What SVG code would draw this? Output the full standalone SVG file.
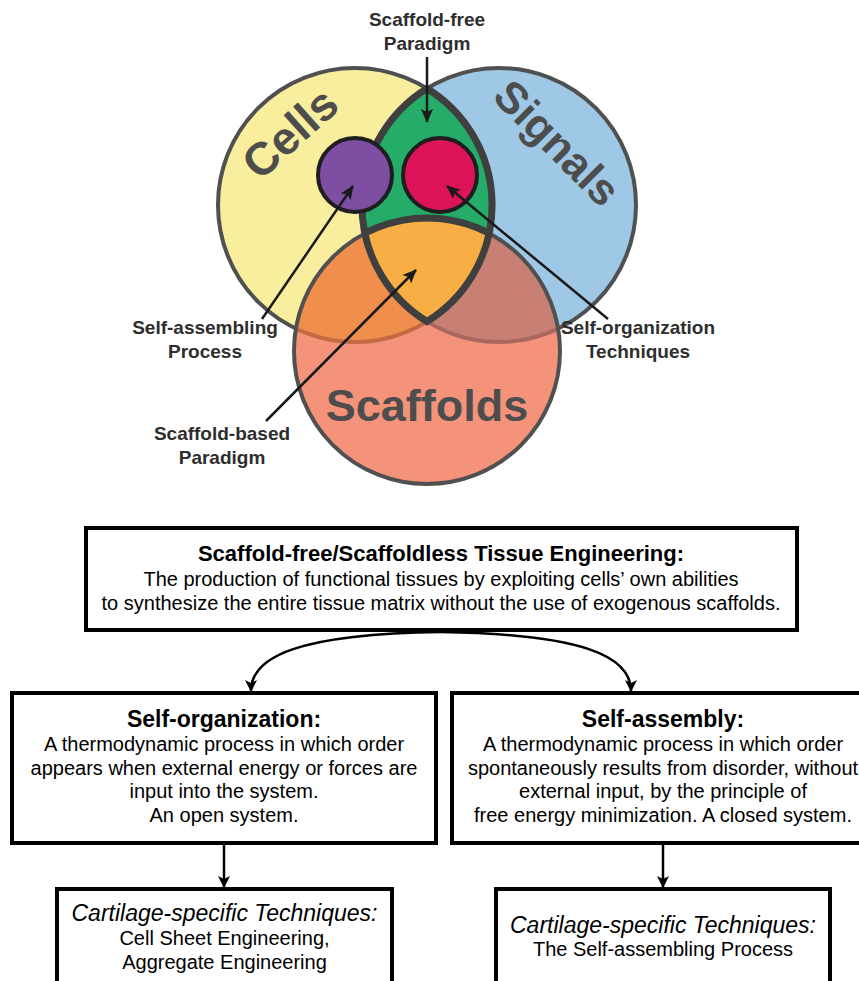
<svg xmlns="http://www.w3.org/2000/svg" width="859" height="981" viewBox="0 0 859 981">
<style>
.lbl{font-family:"Liberation Sans",Arial,sans-serif;font-weight:bold;font-size:19px;fill:#2e2e2e;text-anchor:middle}
.big{font-family:"Liberation Sans",Arial,sans-serif;font-weight:bold;fill:#4d4d4d;text-anchor:middle}
.ttl{font-family:"Liberation Sans",Arial,sans-serif;font-weight:bold;font-size:22px;fill:#000;text-anchor:middle}
.ttl2{font-family:"Liberation Sans",Arial,sans-serif;font-weight:bold;font-size:23px;fill:#000;text-anchor:middle}
.bdy{font-family:"Liberation Sans",Arial,sans-serif;font-size:20px;fill:#000;text-anchor:middle}
.ital{font-family:"Liberation Sans",Arial,sans-serif;font-style:italic;font-size:23px;fill:#000;text-anchor:middle}
.box{fill:#fff;stroke:#000;stroke-width:4}
.ptr{fill:none;stroke:#1a1a1a;stroke-width:2.5;marker-end:url(#ah)}
.flow{fill:none;stroke:#000;stroke-width:2.5;marker-end:url(#ah2)}
</style>
<defs>
<marker id="ah" markerUnits="userSpaceOnUse" markerWidth="14" markerHeight="12" viewBox="0 0 14 12" refX="13" refY="6" orient="auto">
<path d="M0,0 L14,6 L0,12 L3,6 z" fill="#1a1a1a"/>
</marker>
<marker id="ah2" markerUnits="userSpaceOnUse" markerWidth="12" markerHeight="12" viewBox="0 0 12 12" refX="11" refY="6" orient="auto">
<path d="M0,0 L12,6 L0,12 L3,6 z" fill="#000"/>
</marker>
<clipPath id="clipScaf"><circle cx="427" cy="351" r="133"/></clipPath>
<clipPath id="clipLens"><path d="M427 88.4 A137 137 0 0 1 427 321.6 A137 137 0 0 1 427 88.4 Z"/></clipPath>
</defs>

<g id="venn-cells">
<circle cx="355" cy="205" r="137" fill="#F9EE9D" stroke="#505050" stroke-width="4"/>
</g>
<g id="venn-signals">
<circle cx="499" cy="205" r="137" fill="#9EC8E5" stroke="#505050" stroke-width="4"/>
</g>
<g id="venn-scaffolds">
<circle cx="427" cy="351" r="133" fill="#F4937A"/>
<g clip-path="url(#clipScaf)">
<circle cx="355" cy="205" r="137" fill="#F08E4E" stroke="#C46A42" stroke-width="4"/>
<circle cx="499" cy="205" r="137" fill="#C98074" stroke="#A9675D" stroke-width="4"/>
</g>
<circle cx="427" cy="351" r="133" fill="none" stroke="#505050" stroke-width="4"/>
</g>
<g id="scaffold-free-region">
<path d="M427 88.4 A137 137 0 0 1 427 321.6 A137 137 0 0 1 427 88.4 Z" fill="#24AC68"/>
<g clip-path="url(#clipLens)">
<circle cx="427" cy="351" r="133" fill="#F6AE45" stroke="#3f3f3f" stroke-width="7"/>
</g>
<path d="M427 88.4 A137 137 0 0 1 427 321.6 A137 137 0 0 1 427 88.4 Z" fill="none" stroke="#3f3f3f" stroke-width="7"/>
</g>
<g id="self-assembling-circle">
<circle cx="355" cy="175" r="37" fill="#7D4EA2" stroke="#1e1e1e" stroke-width="4"/>
</g>
<g id="self-organization-circle">
<circle cx="440" cy="175" r="37" fill="#DD1458" stroke="#1e1e1e" stroke-width="4"/>
</g>

<g id="venn-titles">
<text class="big" font-size="46" transform="translate(290 133) rotate(-42)" x="0" y="16">Cells</text>
<text class="big" font-size="44" transform="translate(557 143) rotate(45)" x="0" y="15">Signals</text>
<text class="big" font-size="45" x="427" y="421">Scaffolds</text>
</g>

<g id="label-scaffold-free">
<text class="lbl" x="427" y="26">Scaffold-free</text>
<text class="lbl" x="427" y="50">Paradigm</text>
</g>
<g id="label-self-assembling">
<text class="lbl" x="205" y="334">Self-assembling</text>
<text class="lbl" x="205" y="358">Process</text>
</g>
<g id="label-self-organization">
<text class="lbl" x="638" y="334">Self-organization</text>
<text class="lbl" x="638" y="358">Techniques</text>
</g>
<g id="label-scaffold-based">
<text class="lbl" x="222" y="440">Scaffold-based</text>
<text class="lbl" x="222" y="464">Paradigm</text>
</g>

<g id="box-scaffold-free-te">
<rect class="box" x="86" y="528" width="711" height="102"/>
<text class="ttl" x="441" y="561">Scaffold-free/Scaffoldless Tissue Engineering:</text>
<text class="bdy" x="441" y="586">The production of functional tissues by exploiting cells’ own abilities</text>
<text class="bdy" x="441" y="610">to synthesize the entire tissue matrix without the use of exogenous scaffolds.</text>
</g>
<g id="box-self-organization">
<rect class="box" x="12" y="693" width="424" height="150"/>
<text class="ttl2" x="224" y="727">Self-organization:</text>
<text class="bdy" x="224" y="751">A thermodynamic process in which order</text>
<text class="bdy" x="224" y="775">appears when external energy or forces are</text>
<text class="bdy" x="224" y="798">input into the system.</text>
<text class="bdy" x="224" y="822">An open system.</text>
</g>
<g id="box-self-assembly">
<rect class="box" x="452" y="693" width="424" height="150"/>
<text class="ttl2" x="663" y="727">Self-assembly:</text>
<text class="bdy" x="663" y="751">A thermodynamic process in which order</text>
<text class="bdy" x="663" y="775">spontaneously results from disorder, without</text>
<text class="bdy" x="663" y="798">external input, by the principle of</text>
<text class="bdy" x="663" y="822">free energy minimization. A closed system.</text>
</g>
<g id="box-cartilage-left">
<rect class="box" x="57" y="889" width="335" height="100"/>
<text class="ital" x="224.5" y="921">Cartilage-specific Techniques:</text>
<text class="bdy" x="224.5" y="945">Cell Sheet Engineering,</text>
<text class="bdy" x="224.5" y="969">Aggregate Engineering</text>
</g>
<g id="box-cartilage-right">
<rect class="box" x="496" y="889" width="334" height="100"/>
<text class="ital" x="663" y="933">Cartilage-specific Techniques:</text>
<text class="bdy" x="663" y="956">The Self-assembling Process</text>
</g>

<g id="connectors">
<path class="ptr" d="M427 57 L427 122"/>
<path class="ptr" d="M262 319 L353 186"/>
<path class="ptr" d="M608 319 L447 186"/>
<path class="ptr" d="M266 421 L416 270"/>
<path class="flow" d="M441 632 C300 634 251 656 251 691"/>
<path class="flow" d="M441 632 C582 634 631 656 631 691"/>
<path class="flow" d="M224 845 L224 887"/>
<path class="flow" d="M663 845 L663 887"/>
</g>
</svg>
